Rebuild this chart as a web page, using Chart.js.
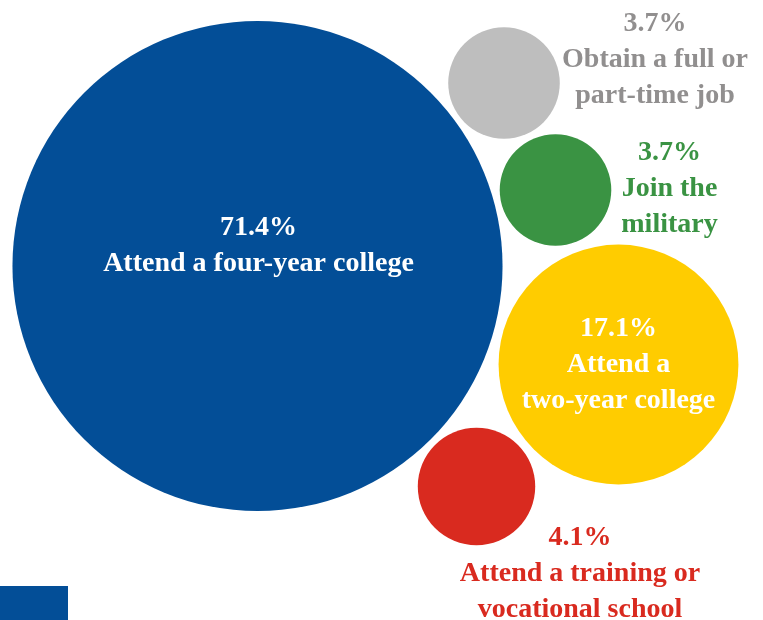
<!DOCTYPE html>
<html>
<head>
<meta charset="utf-8">
<script src="https://cdn.jsdelivr.net/npm/chart.js@4"></script>
<style>
    html, body { margin: 0; padding: 0; background: #ffffff; }
    #wrap { position: relative; width: 763px; height: 620px; }
</style>
</head>
<body>
<div id="wrap"><canvas id="chart" width="763" height="620"></canvas></div>
<script>
// Plans after graduation, share of students (%)
const categories = [
    'Attend a four-year college',
    'Obtain a full or part-time job',
    'Join the military',
    'Attend a two-year college',
    'Attend a training or vocational school'
];
const shares = [71.4, 3.7, 3.7, 17.1, 4.1];

// label text, split into lines as drawn
const labelLines = [
    ['Attend a four-year college'],
    ['Obtain a full or', 'part-time job'],
    ['Join the', 'military'],
    ['Attend a', 'two-year college'],
    ['Attend a training or', 'vocational school']
];

// packed bubble centres (chart units = pixels)
const centerX = [257.5, 504, 555.5, 618.5, 476.5];
const centerY = [266, 83, 190, 364.5, 486.5];

const fills = ['#034e97', '#bebebe', '#3a9343', '#ffcc00', '#d92a1f'];
const textColors = ['#ffffff', '#918f8f', '#3a9343', '#ffffff', '#d92a1f'];
// where the first text line sits relative to the bubble centre
const labelOffsets = [[1, -38], [151, -59], [114, -37], [0, -36], [103.5, 51]];

const radiusPerUnit = 29;   // area scales with the share
const lineHeight = 36;

const bubbleLabels = {
    id: 'bubbleLabels',
    afterDatasetsDraw(chart) {
        const ctx = chart.ctx;
        const meta = chart.getDatasetMeta(0);
        ctx.save();
        ctx.font = 'bold 28px "Liberation Serif", serif';
        ctx.textAlign = 'center';
        ctx.textBaseline = 'middle';
        meta.data.forEach((el, i) => {
            const [dx, dy] = labelOffsets[i];
            const lines = [shares[i].toFixed(1) + '%', ...labelLines[i]];
            ctx.fillStyle = textColors[i];
            lines.forEach((line, j) => {
                ctx.fillText(line, el.x + dx, el.y + dy + j * lineHeight);
            });
        });
        ctx.restore();
    }
};

// small blue block in the bottom-left corner
const cornerBlock = {
    id: 'cornerBlock',
    beforeDatasetsDraw(chart) {
        const ctx = chart.ctx;
        ctx.save();
        ctx.fillStyle = '#034e97';
        ctx.fillRect(0, 586, 68, 34);
        ctx.restore();
    }
};

new Chart(document.getElementById('chart'), {
    type: 'bubble',
    data: {
        labels: categories,
        datasets: [{
            data: shares.map((v, i) => ({ x: centerX[i], y: centerY[i], r: radiusPerUnit * Math.sqrt(v) })),
            backgroundColor: fills,
            borderWidth: 0,
            hoverBorderWidth: 0,
            clip: false
        }]
    },
    options: {
        responsive: false,
        animation: false,
        events: [],
        layout: { padding: 0, autoPadding: false },
        scales: {
            x: { display: false, min: 0, max: 763 },
            y: { display: false, min: 0, max: 620, reverse: true }
        },
        plugins: {
            legend: { display: false },
            tooltip: { enabled: false }
        }
    },
    plugins: [cornerBlock, bubbleLabels]
});
</script>
</body>
</html>
